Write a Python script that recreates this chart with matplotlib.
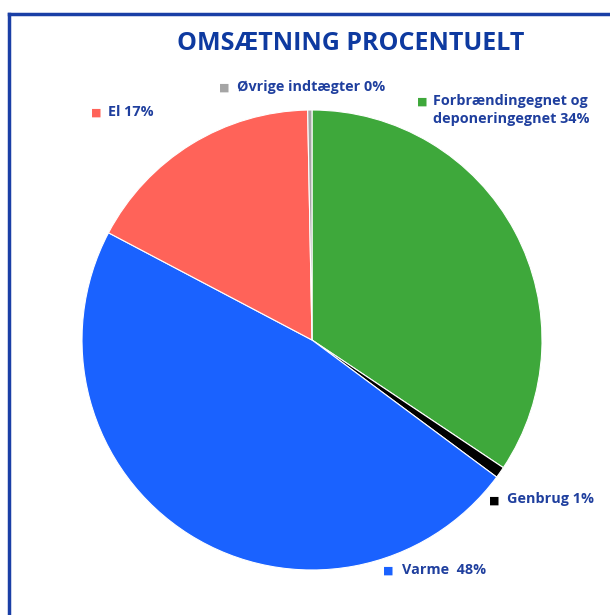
import matplotlib
matplotlib.use("Agg")
import matplotlib.pyplot as plt
from matplotlib.lines import Line2D

categories = ["Forbrændingegnet og\ndeponeringegnet", "Genbrug", "Varme ", "El", "Øvrige indtægter"]
values = [34.4, 0.8, 47.6, 17.0, 0.3]
shown_pct = ["34%", "1%", "48%", "17%", "0%"]
colors = ["#3EA83B", "#000000", "#1A62FF", "#FF6359", "#A5A5A5"]

W, H = 610, 615
TXT = "#1F3F9E"
fig = plt.figure(figsize=(W / 100, H / 100), dpi=100)
fig.patch.set_facecolor("white")

# frame lines (top and left only visible)
fig.add_artist(Line2D([8.5 / W, 1], [1 - 14 / H, 1 - 14 / H], color="#1A3FA6", lw=2.5))
fig.add_artist(Line2D([8.5 / W, 8.5 / W], [0, 1 - 14 / H], color="#1A3FA6", lw=2.5))

fig.text(351 / W, 1 - 43 / H, "OMSÆTNING PROCENTUELT", fontsize=18, fontweight="bold",
         color="#0E3AA0", ha="center", va="center", family="Open Sans")

cx, cy, r = 312, 340, 230
ax = fig.add_axes([(cx - r) / W, (H - cy - r) / H, 2 * r / W, 2 * r / H])
ax.pie(values, colors=colors, startangle=90, counterclock=False,
       wedgeprops=dict(edgecolor="white", linewidth=0.8))
ax.set_xlim(-1, 1); ax.set_ylim(-1, 1)
ax.axis("off")

# label positions (square x, text x, y) in pixels
pos = [(422, 433, 102), (494, 507, 501), (388, 402, 571), (96, 108, 113), (224, 237, 88)]
for (sx, tx, y), cat, pct, col in zip(pos, categories, shown_pct, colors):
    fig.text(sx / W, 1 - y / H, "■", fontsize=8, color=col, ha="center", va="center",
             family="DejaVu Sans")
    fig.text(tx / W, 1 - (y - 8.5) / H, cat + " " + pct, fontsize=10.4, fontweight="bold",
             color=TXT, ha="left", va="top", family="Open Sans", linespacing=1.4)

fig.savefig("out.png", dpi=100)
